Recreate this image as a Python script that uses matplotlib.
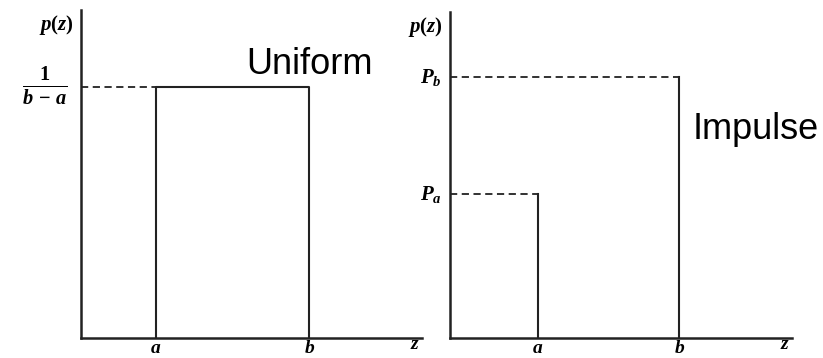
import matplotlib
matplotlib.use("Agg")
import matplotlib.pyplot as plt

# serif bold italic look for the math labels
plt.rcParams["mathtext.fontset"] = "custom"
plt.rcParams["mathtext.it"] = "Liberation Serif:italic:bold"
plt.rcParams["mathtext.rm"] = "Liberation Serif:bold"
plt.rcParams["mathtext.bf"] = "Liberation Serif:bold"

# uniform pdf (axis fractions)
uni_a, uni_b = 0.22, 0.67
uni_h = 0.765

# impulse pdf
imp_a, imp_b = 0.257, 0.67
imp_pa, imp_pb = 0.44, 0.80

line_col = "#222222"

fig = plt.figure(figsize=(8.23, 3.58), dpi=100)
ax1 = fig.add_axes([0.0984, 0.0559, 0.414, 0.916])
ax2 = fig.add_axes([0.547, 0.0559, 0.4156, 0.911])

for ax in (ax1, ax2):
    ax.set_xlim(0, 1)
    ax.set_ylim(0, 1)
    ax.spines["top"].set_visible(False)
    ax.spines["right"].set_visible(False)
    for s in ("left", "bottom"):
        ax.spines[s].set_linewidth(1.8)
        ax.spines[s].set_color(line_col)
    ax.set_xticks([])
    ax.set_yticks([])
    ax.patch.set_alpha(0)
    ax.text(-0.02, 0.955, r"$p(z)$", ha="right", va="center", fontsize=15,
            transform=ax.transAxes)
    ax.text(0.98, -0.035, r"$z$", ha="center", va="baseline", fontsize=14,
            transform=ax.transAxes)

# uniform
ax1.plot([0, uni_a], [uni_h, uni_h], ls=(0, (4, 2.5)), color=line_col, lw=1.3)
ax1.plot([uni_a, uni_a, uni_b, uni_b], [0, uni_h, uni_h, 0], color=line_col, lw=1.5)
ax1.text(-0.038, uni_h, r"$\frac{1}{b\,-\,a}$", ha="right", va="center", fontsize=21)
ax1.text(uni_a, -0.045, r"$a$", ha="center", va="baseline", fontsize=14)
ax1.text(uni_b, -0.045, r"$b$", ha="center", va="baseline", fontsize=14)
ax1.text(0.67, 0.835, "Uniform", ha="center", va="center", fontsize=26,
         family="Liberation Sans")

# impulse
ax2.plot([0, imp_a], [imp_pa, imp_pa], ls=(0, (4, 2.5)), color=line_col, lw=1.3)
ax2.plot([0, imp_b], [imp_pb, imp_pb], ls=(0, (4, 2.5)), color=line_col, lw=1.3)
ax2.plot([imp_a, imp_a], [0, imp_pa], color=line_col, lw=1.5)
ax2.plot([imp_b, imp_b], [0, imp_pb], color=line_col, lw=1.5)
ax2.text(-0.025, imp_pa, r"$P_a$", ha="right", va="center", fontsize=15)
ax2.text(-0.025, imp_pb, r"$P_b$", ha="right", va="center", fontsize=15)
ax2.text(imp_a, -0.045, r"$a$", ha="center", va="baseline", fontsize=14)
ax2.text(imp_b, -0.045, r"$b$", ha="center", va="baseline", fontsize=14)
ax2.text(0.71, 0.64, "Impulse", ha="left", va="center", fontsize=26,
         family="Liberation Sans")

fig.savefig("out.png", dpi=100)
